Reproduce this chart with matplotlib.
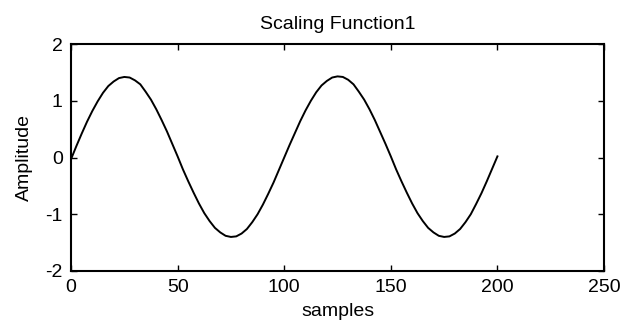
import matplotlib
matplotlib.use("Agg")
import matplotlib.pyplot as plt

# values (every 2.5 samples)
samples = [i * 2.5 for i in range(81)]
amplitude = [-0.03, 0.20, 0.42, 0.63, 0.82, 0.99, 1.14, 1.26, 1.34, 1.40, 1.42,
             1.41, 1.36, 1.29, 1.16, 1.02, 0.85, 0.66, 0.46, 0.24, 0.02,
             -0.21, -0.42, -0.62, -0.81, -0.98, -1.12, -1.24, -1.32, -1.38, -1.40,
             -1.39, -1.34, -1.26, -1.14, -1.00, -0.83, -0.64, -0.44, -0.22, 0.00,
             0.22, 0.43, 0.64, 0.83, 1.00, 1.15, 1.27, 1.35, 1.41, 1.43,
             1.42, 1.37, 1.29, 1.16, 1.02, 0.85, 0.66, 0.45, 0.24, 0.02,
             -0.21, -0.42, -0.62, -0.81, -0.98, -1.12, -1.24, -1.32, -1.38, -1.40,
             -1.39, -1.34, -1.26, -1.14, -1.00, -0.82, -0.63, -0.42, -0.20, 0.02]

xticks = [0, 50, 100, 150, 200, 250]
yticks = [-2, -1, 0, 1, 2]

plt.rcParams['font.family'] = ['Liberation Sans', 'DejaVu Sans']
plt.rcParams['axes.unicode_minus'] = False

fig = plt.figure(figsize=(6.24, 3.27), dpi=100)
ax = fig.add_axes([0.1138, 0.1713, 0.8542, 0.694])

ax.plot(samples, amplitude, color='black', linewidth=1.4)

ax.set_xlim(0, 250)
ax.set_ylim(-2, 2)
ax.set_xticks(xticks)
ax.set_yticks(yticks)
ax.tick_params(direction='in', length=4, width=1, top=True, right=True,
               labelsize=14, pad=6)
for s in ax.spines.values():
    s.set_linewidth(1.5)

ax.set_title('Scaling Function1', fontsize=14, pad=11)
ax.set_xlabel('samples', fontsize=14, labelpad=5)
ax.set_ylabel('Amplitude', fontsize=14, labelpad=9)

fig.savefig('out.png', dpi=100)
